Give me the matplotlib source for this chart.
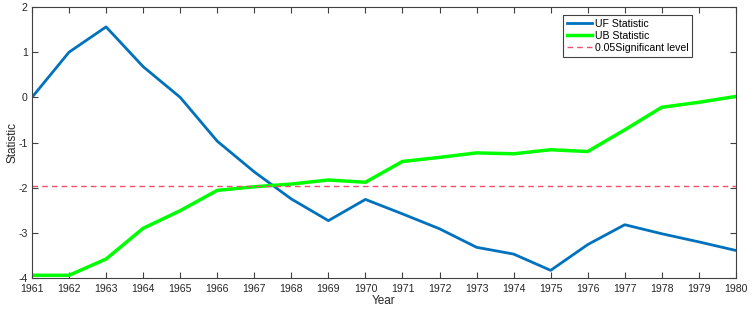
import matplotlib
matplotlib.use("Agg")
import matplotlib.pyplot as plt

years = list(range(1961, 1981))
uf = [0.0, 1.0, 1.56, 0.68, 0.0, -0.97, -1.65, -2.25, -2.73, -2.26,
      -2.58, -2.91, -3.32, -3.47, -3.83, -3.26, -2.82, -3.02, -3.2, -3.39]
ub = [-3.94, -3.94, -3.58, -2.90, -2.51, -2.06, -1.98, -1.92, -1.83, -1.88,
      -1.42, -1.33, -1.23, -1.25, -1.16, -1.20, -0.72, -0.22, -0.11, 0.02]
sig_level = -1.96

plt.rcParams['font.family'] = ['Liberation Sans', 'DejaVu Sans']
plt.rcParams['axes.unicode_minus'] = False

fig = plt.figure(figsize=(7.54, 3.14), dpi=100)
ax = fig.add_axes([0.0424, 0.1146, 0.9336, 0.8631])

ax.plot(years, uf, color='#0072BD', lw=2, label='UF Statistic')
ax.plot(years, ub, color='#00FF00', lw=2.5, label='UB Statistic')
ax.axhline(sig_level, color='#F0506E', lw=1, ls=(0, (4, 3)), label='0.05Significant level')

ax.set_xlim(1961, 1980)
ax.set_ylim(-4, 2)
ax.set_xticks(years)
ax.set_yticks(range(-4, 3))
ax.tick_params(direction='in', top=True, right=True, labelsize=7.6, length=4,
               color='#404040', labelcolor='#262626')
ax.tick_params(axis='y', pad=3)
ax.tick_params(axis='x', pad=4)
for s in ax.spines.values():
    s.set_color('#404040')
    s.set_linewidth(0.8)
ax.set_xlabel('Year', fontsize=8.5, color='#262626', labelpad=1)
ax.set_ylabel('Statistic', fontsize=8.5, color='#262626', labelpad=0)

leg = ax.legend(loc='upper right', bbox_to_anchor=(0.9375, 0.97), borderaxespad=0,
                fontsize=7.6, handlelength=2.4, handletextpad=0.2, borderpad=0.35,
                labelspacing=0.2, fancybox=False, framealpha=1)
leg.get_frame().set_edgecolor('#404040')
leg.get_frame().set_linewidth(0.8)

fig.savefig('out.png', dpi=100)
